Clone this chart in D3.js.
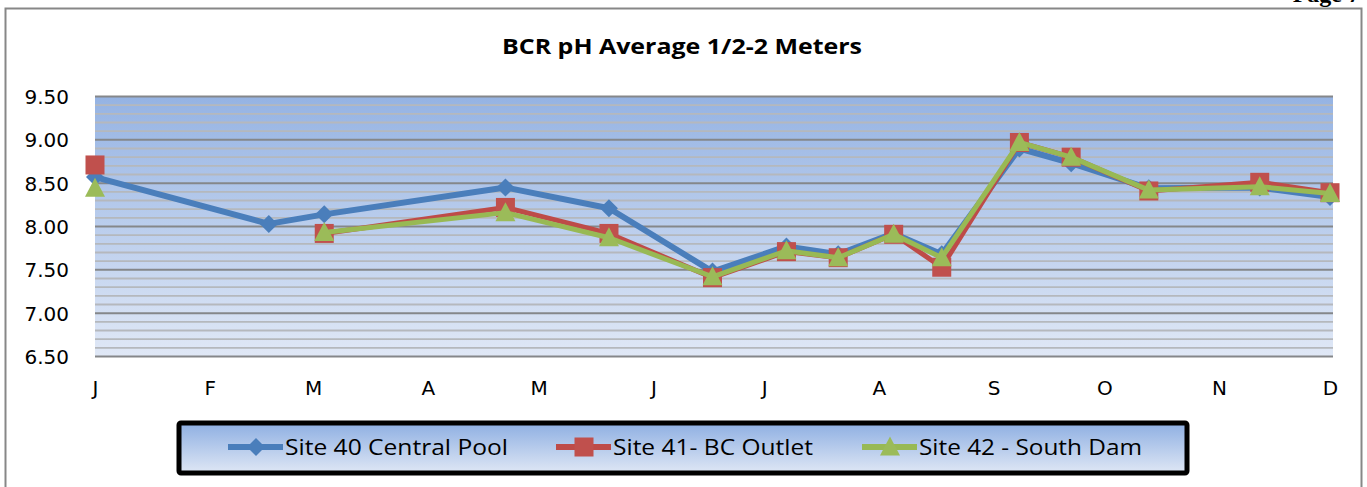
<!DOCTYPE html>
<html><head><meta charset="utf-8">
<script src="https://cdn.jsdelivr.net/npm/d3@7"></script>
<style>html,body{margin:0;padding:0;background:#fff;overflow:hidden}</style>
</head><body>
<svg id="c" width="1367" height="487"></svg>
<script>
const title = "BCR pH Average 1/2-2 Meters";
const monthLabels = ["J","F","M","A","M","J","J","A","S","O","N","D"];
const sampleDates = ["2011-01-01","2011-02-17","2011-03-04","2011-04-22","2011-05-20","2011-06-17","2011-07-07","2011-07-21","2011-08-05","2011-08-18","2011-09-08","2011-09-22","2011-10-13","2011-11-12","2011-12-01"];
const site40 = [8.57,8.03,8.14,8.45,8.21,7.48,7.77,7.68,7.92,7.68,8.90,8.73,8.44,8.45,8.34];
const site41 = [8.71,null,7.92,8.22,7.92,7.41,7.71,7.64,7.91,7.53,8.97,8.80,8.41,8.51,8.39];
const site42 = [8.44,null,7.93,8.16,7.87,7.42,7.72,7.64,7.91,7.64,8.97,8.80,8.42,8.46,8.38];
const seriesNames = ["Site 40 Central Pool","Site 41- BC Outlet","Site 42 - South Dam"];
const yTicks = [6.5,7.0,7.5,8.0,8.5,9.0,9.5];

const svg = d3.select("#c");
const parse = d3.timeParse("%Y-%m-%d");
const dates = sampleDates.map(parse);
const x = d3.scaleTime().domain([parse("2011-01-01"), parse("2011-12-01")]).range([95, 1330]);
const y = d3.scaleLinear().domain([6.5, 9.5]).range([356.5, 96.5]);
const plotL = 95, plotR = 1333;

// page number (mostly above the visible area, as in the reference)
svg.append("text").attr("x",1360).attr("y",2).attr("text-anchor","end")
  .attr("font-family","Liberation Serif").attr("font-weight","bold").attr("font-size",24)
  .attr("fill","#000").text("Page 7");

// outer frame
svg.append("rect").attr("x",0).attr("y",8).attr("width",1367).attr("height",479).attr("fill","#fff");
svg.append("path").attr("d","M5.5,487V8.5H1361.5V487").attr("fill","none").attr("stroke","#878787").attr("stroke-width",2);

const defs = svg.append("defs");
const g1 = defs.append("linearGradient").attr("id","bg").attr("x1",0).attr("y1",0).attr("x2",0).attr("y2",1);
g1.append("stop").attr("offset","0%").attr("stop-color","#95b3e3");
g1.append("stop").attr("offset","100%").attr("stop-color","#e0e8f6");

svg.append("rect").attr("x",plotL).attr("y",y(9.5)).attr("width",plotR-plotL).attr("height",y(6.5)-y(9.5)).attr("fill","url(#bg)");

// minor grid
const minor = d3.range(65,96).map(d=>d/10).filter(v=>Math.round(v*10)%5!==0);
svg.append("g").selectAll("line").data(minor).join("line")
  .attr("x1",plotL).attr("x2",plotR).attr("y1",d=>y(d)).attr("y2",d=>y(d))
  .attr("stroke","#b5b8bd").attr("stroke-width",1.8);
svg.append("g").selectAll("line").data(yTicks).join("line")
  .attr("x1",plotL).attr("x2",plotR).attr("y1",d=>y(d)).attr("y2",d=>y(d))
  .attr("stroke","#85878a").attr("stroke-width",2);

// y labels
const yAxis = d3.axisLeft(y).tickValues(yTicks).tickFormat(d3.format(".2f")).tickSize(0).tickPadding(0);
const ya = svg.append("g").attr("transform","translate(69,0)").call(yAxis);
ya.select(".domain").remove();
ya.selectAll("text").attr("font-family","DejaVu Sans").attr("font-size",20).attr("fill","#000").attr("dy","0.35em");

// x labels
const monthDates = d3.range(12).map(i=>new Date(2011,i,1));
const xAxis = d3.axisBottom(x).tickValues(monthDates).tickFormat((d,i)=>monthLabels[i]).tickSize(0).tickPadding(0);
const xa = svg.append("g").attr("transform","translate(0,381)").call(xAxis);
xa.select(".domain").remove();
xa.selectAll("text").attr("font-family","DejaVu Sans").attr("font-size",20).attr("fill","#000").attr("dy","0.7em");

// title
svg.append("text").attr("x",682).attr("y",54).attr("text-anchor","middle")
  .attr("font-family","Open Sans").attr("font-weight","bold").attr("font-size",21)
  .attr("textLength",360).attr("lengthAdjust","spacingAndGlyphs").text(title);

const colors = ["#4a7ebb","#be4b48","#98b954"];
const fills = ["#4a7ebb","#c0504d","#9bbb59"];
const seriesData = [site40, site41, site42];
const line = d3.line().defined(d=>d.v!==null).x(d=>x(d.t)).y(d=>y(d.v));

function drawMarker(g, k, cx, cy, scale){
  if(k===0){
    const h=9*scale;
    g.append("path").attr("d",`M${cx},${cy-h}L${cx+h},${cy}L${cx},${cy+h}L${cx-h},${cy}Z`).attr("fill",fills[k]);
  } else if(k===1){
    const h=9.5*scale;
    g.append("rect").attr("x",cx-h).attr("y",cy-h).attr("width",2*h).attr("height",2*h).attr("fill",fills[k]);
  } else {
    const w=10*scale, hh=9.5*scale;
    g.append("path").attr("d",`M${cx},${cy-hh-1}L${cx+w},${cy+hh-1}L${cx-w},${cy+hh-1}Z`).attr("fill",fills[k]);
  }
}

seriesData.forEach((vals,k)=>{
  const pts = vals.map((v,i)=>({t:dates[i], v}));
  const g = svg.append("g");
  g.append("path").datum(pts).attr("d",line).attr("fill","none")
    .attr("stroke",colors[k]).attr("stroke-width",k===0?6:5).attr("stroke-linejoin","round");
  pts.filter(d=>d.v!==null).forEach(d=>drawMarker(g,k,x(d.t),y(d.v),1));
});

// legend
const g2 = defs.append("linearGradient").attr("id","lg").attr("x1",0).attr("y1",0).attr("x2",0).attr("y2",1);
g2.append("stop").attr("offset","0%").attr("stop-color","#8eafe2");
g2.append("stop").attr("offset","100%").attr("stop-color","#dfe7f5");
svg.append("rect").attr("x",179).attr("y",423).attr("width",1008).attr("height",50).attr("rx",2)
  .attr("fill","url(#lg)").attr("stroke","#000").attr("stroke-width",5);
const legX = [228, 556, 862];
const legTextLen = [223, 200, 223];
seriesNames.forEach((n,k)=>{
  const g = svg.append("g");
  g.append("line").attr("x1",legX[k]).attr("x2",legX[k]+55).attr("y1",447).attr("y2",447)
    .attr("stroke",colors[k]).attr("stroke-width",6);
  drawMarker(g,k,legX[k]+28,447,1);
  g.append("text").attr("x",legX[k]+57).attr("y",447).attr("dy","0.36em")
    .attr("font-family","Open Sans").attr("font-size",22).attr("fill","#000")
    .attr("textLength",legTextLen[k]).attr("lengthAdjust","spacingAndGlyphs").text(n);
});
</script>
</body></html>
